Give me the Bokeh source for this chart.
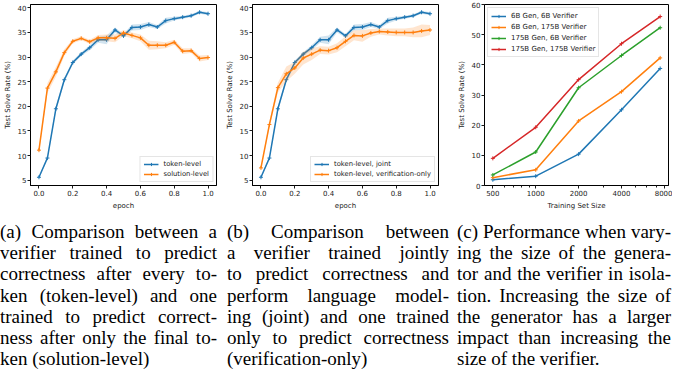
from bokeh.plotting import figure
from bokeh.models import FixedTicker, NumeralTickFormatter, Div
from bokeh.layouts import row, column
from bokeh.embed import file_html
from bokeh.resources import INLINE

# ---------------- data ----------------
epochs = [0.0, 0.05, 0.1, 0.15, 0.2, 0.25, 0.3, 0.35, 0.4, 0.45, 0.5,
          0.55, 0.6, 0.65, 0.7, 0.75, 0.8, 0.85, 0.9, 0.95, 1.0]
token_level = [5.6, 9.5, 19.5, 25.4, 28.9, 30.6, 31.9, 33.5, 33.5, 35.5, 34.3,
               36.0, 36.1, 36.6, 36.1, 37.4, 37.8, 38.1, 38.4, 39.1, 38.8]
token_err = [0.2, 0.4, 0.5, 0.5, 0.4, 0.4, 0.5, 0.6, 0.9, 0.5, 0.4,
             0.6, 0.6, 0.5, 0.4, 0.6, 0.4, 0.3, 0.3, 0.3, 0.3]
solution_level = [11.1, 23.7, 27.0, 30.9, 33.2, 33.8, 33.1, 33.9, 33.9, 33.8, 34.9,
                  34.4, 33.9, 32.4, 32.4, 32.4, 33.0, 31.2, 31.3, 29.7, 29.9]
solution_err = [0.3, 1.0, 1.0, 0.7, 0.4, 0.4, 0.4, 0.6, 0.7, 0.8, 0.6,
                0.6, 0.7, 0.9, 0.8, 0.6, 0.5, 0.6, 0.5, 0.6, 0.5]
verification_only = [7.5, 16.3, 23.8, 26.6, 27.8, 29.8, 30.6, 31.4, 31.3, 31.9, 33.2,
                     34.4, 34.3, 34.9, 35.2, 35.1, 35.0, 35.0, 35.0, 35.3, 35.5]
verification_err = [0.3, 0.6, 1.0, 1.5, 1.2, 1.3, 1.2, 0.8, 0.8, 0.9, 1.0,
                    1.0, 1.2, 0.8, 0.6, 0.7, 0.8, 0.8, 1.0, 1.3, 1.0]

train_sizes = [500, 1000, 2000, 4000, 7473]
gen6_ver6 = [1.9, 3.1, 10.4, 25.1, 38.8]
gen6_ver175 = [2.6, 5.2, 21.4, 31.1, 42.3]
gen175_ver6 = [3.5, 11.1, 32.4, 43.1, 52.3]
gen175_ver175 = [9.0, 19.3, 35.1, 47.0, 56.0]

epoch_ticks = [0.0, 0.2, 0.4, 0.6, 0.8, 1.0]
rate_ticks = [5, 10, 15, 20, 25, 30, 35, 40]
size_ticks = [500, 1000, 2000, 4000, 8000]
size_minor = [600, 700, 800, 900, 3000, 5000, 6000, 7000]
c_rate_ticks = [0, 10, 20, 30, 40, 50, 60]

caption_a = ["(a) Comparison between a", "verifier trained to predict",
             "correctness after every to-", "ken (token-level) and one",
             "trained to predict correct-", "ness after only the final to-",
             "ken (solution-level)"]
caption_b = ["(b) Comparison between", "a verifier trained jointly",
             "to predict correctness and", "perform language model-",
             "ing (joint) and one trained", "only to predict correctness",
             "(verification-only)"]
caption_c = ["(c) Performance when vary-", "ing the size of the genera-",
             "tor and the verifier in isola-", "tion. Increasing the size of",
             "the generator has a larger", "impact than increasing the",
             "size of the verifier."]

# ---------------- style ----------------
FONT = "DejaVu Sans"
TXT = "#1a1a1a"
C0, C1, C2, C3 = "#1f77b4", "#ff7f0e", "#2ca02c", "#d62728"


def style(p):
    p.outline_line_color = "black"
    p.outline_line_width = 1
    p.outline_line_alpha = 1
    p.grid.visible = False
    p.background_fill_color = "white"
    p.border_fill_color = "white"
    for ax in p.axis:
        ax.major_label_text_font = FONT
        ax.major_label_text_font_size = "7px"
        ax.major_label_text_color = TXT
        ax.axis_label_text_font = FONT
        ax.axis_label_text_font_size = "7px"
        ax.axis_label_text_font_style = "normal"
        ax.axis_label_text_color = TXT
        ax.axis_line_color = "black"
        ax.major_tick_line_color = TXT
        ax.major_tick_out = 3
        ax.major_tick_in = 0
        ax.minor_tick_line_color = None
        ax.major_label_standoff = 1
        ax.axis_label_standoff = 3


def style_legend(p, loc, size="6.8px"):
    lg = p.legend[0]
    lg.location = loc
    lg.label_text_font = FONT
    lg.label_text_font_size = size
    lg.label_text_color = TXT
    lg.glyph_width = 15
    lg.glyph_height = 8
    lg.label_height = 8
    lg.label_standoff = 5
    lg.spacing = 2
    lg.padding = 3
    lg.margin = 3
    lg.border_line_color = "#cccccc"
    lg.border_line_width = 1
    lg.background_fill_alpha = 0.85


def series(p, x, y, color, label, err=None):
    if err is not None:
        lo = [a - b for a, b in zip(y, err)]
        hi = [a + b for a, b in zip(y, err)]
        p.varea(x=x, y1=lo, y2=hi, fill_color=color, fill_alpha=0.2)
    p.line(x, y, line_color=color, line_width=1.5, legend_label=label)
    p.scatter(x, y, marker="cross", size=4, line_color=color, line_width=1,
              legend_label=label)


def epoch_fig(second, second_err, second_label, first_label):
    p = figure(width=222, height=212, x_range=(-0.05, 1.05), y_range=(3.93, 40.67),
               output_backend="svg", toolbar_location=None,
               min_border_left=24, min_border_right=6,
               min_border_top=2, min_border_bottom=22)
    style(p)
    series(p, epochs, token_level, C0, first_label, token_err)
    series(p, epochs, second, C1, second_label, second_err)
    p.xaxis.ticker = FixedTicker(ticks=epoch_ticks)
    p.xaxis.formatter = NumeralTickFormatter(format="0.0")
    p.yaxis.ticker = FixedTicker(ticks=rate_ticks)
    p.xaxis.axis_label = "epoch"
    p.yaxis.axis_label = "Test Solve Rate (%)"
    style_legend(p, "bottom_right")
    return p


pa = epoch_fig(solution_level, solution_err, "solution-level", "token-level")
pb = epoch_fig(verification_only, verification_err,
               "token-level, verification-only", "token-level, joint")

pc = figure(width=228, height=212, x_axis_type="log", x_range=(437, 8549),
            y_range=(0, 60), output_backend="svg", toolbar_location=None,
            min_border_left=40, min_border_right=4,
            min_border_top=4, min_border_bottom=24)
style(pc)
series(pc, train_sizes, gen6_ver6, C0, "6B Gen, 6B Verifier")
series(pc, train_sizes, gen6_ver175, C1, "6B Gen, 175B Verifier")
series(pc, train_sizes, gen175_ver6, C2, "175B Gen, 6B Verifier")
series(pc, train_sizes, gen175_ver175, C3, "175B Gen, 175B Verifier")
pc.xaxis.ticker = FixedTicker(ticks=size_ticks, minor_ticks=size_minor)
pc.xaxis.formatter = NumeralTickFormatter(format="0")
pc.xaxis.minor_tick_line_color = TXT
pc.xaxis.minor_tick_out = 2
pc.xaxis.minor_tick_in = 0
pc.yaxis.ticker = FixedTicker(ticks=c_rate_ticks)
pc.xaxis.axis_label = "Training Set Size"
pc.yaxis.axis_label = "Test Solve Rate (%)"
style_legend(pc, "top_left", "7px")
pc.legend[0].label_height = 9
pc.legend[0].spacing = 2

# ---------------- captions ----------------
def col_html(lines, left, width):
    out = []
    for ln in lines[:-1]:
        words = "".join(f"<span>{w}</span>" for w in ln.split(" "))
        out.append(f'<div style="display:flex;justify-content:space-between;'
                   f'white-space:nowrap;">{words}</div>')
    out.append(f'<div style="white-space:nowrap;">{lines[-1]}</div>')
    return (f'<div style="position:absolute;left:{left}px;top:9px;width:{width}px;">'
            + "".join(out) + "</div>")


html = ('<div style="position:relative;width:672px;height:157px;overflow:hidden;'
        'font-family:\'Liberation Serif\';font-size:19px;line-height:21.2px;color:#000;">'
        + col_html(caption_a, 0, 217)
        + col_html(caption_b, 227, 222)
        + col_html(caption_c, 457, 214)
        + "</div>")
cap = Div(text=html, width=672, height=157, margin=0)

layout = column(row(pa, pb, pc, spacing=0), cap, spacing=0)
open("out.html", "w").write(file_html(layout, INLINE))
